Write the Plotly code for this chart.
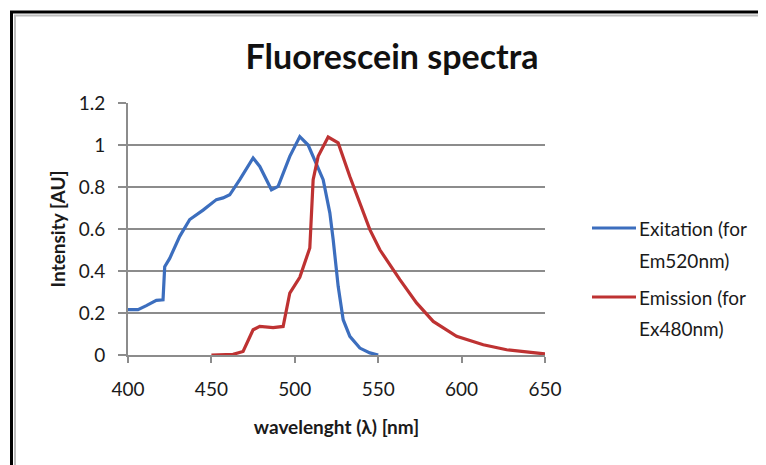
import plotly.graph_objects as go

# ---------------------------------------------------------------------------
# Data
# ---------------------------------------------------------------------------
EX_WAVELENGTH = [400, 406, 411, 417, 421, 422, 425, 431, 437, 445, 453, 457, 461,
                 467, 475, 479, 486, 490, 497, 503, 508, 511, 517, 521, 523, 526,
                 529, 533, 539, 545, 550]
EX_INTENSITY = [0.216, 0.216, 0.235, 0.26, 0.263, 0.42, 0.46, 0.565, 0.645, 0.69,
                0.74, 0.748, 0.763, 0.835, 0.938, 0.898, 0.787, 0.803, 0.946, 1.04,
                1.0, 0.946, 0.835, 0.677, 0.55, 0.327, 0.168, 0.089, 0.033, 0.01, 0.0]

EM_WAVELENGTH = [450, 463, 469, 475, 479, 487, 493, 497, 503, 509, 511, 514, 520,
                 526, 533, 539, 545, 551, 563, 573, 583, 597, 613, 627, 643, 650]
EM_INTENSITY = [0.0, 0.003, 0.017, 0.12, 0.136, 0.13, 0.136, 0.295, 0.37, 0.51,
                0.835, 0.946, 1.038, 1.01, 0.85, 0.724, 0.597, 0.501, 0.359, 0.248,
                0.16, 0.089, 0.049, 0.025, 0.012, 0.005]

SERIES_LABELS = [["Exitation (for", "Em520nm)"], ["Emission (for", "Ex480nm)"]]

X_TICKS = [400, 450, 500, 550, 600, 650]
Y_TICKS = [0, 0.2, 0.4, 0.6, 0.8, 1, 1.2]
Y_TICK_TEXT = ["0", "0.2", "0.4", "0.6", "0.8", "1", "1.2"]

# ---------------------------------------------------------------------------
# Styling (pixel positions are measured in the 766x465 screenshot; the page
# body adds an 8px margin, so the figure itself is shifted by that amount)
# ---------------------------------------------------------------------------
OFF = 8
W, H = 766 - OFF, 465 - OFF
PLOT_L, PLOT_R, PLOT_T, PLOT_B = 128, 545, 103, 355
ML, MR, MT, MB = PLOT_L - OFF, W - (PLOT_R - OFF), PLOT_T - OFF, H - (PLOT_B - OFF)
FONT = "Lato, 'Open Sans', sans-serif"
BLUE = "#3C6EBE"
RED = "#BE3232"
GRID = "#8C8C8C"
TEXT = "#1A1A1A"


def px_x(px):
    """Screenshot x pixel -> paper coordinate."""
    return (px - PLOT_L) / (PLOT_R - PLOT_L)


def px_y(py):
    """Screenshot y pixel -> paper coordinate."""
    return (PLOT_B - py) / (PLOT_B - PLOT_T)


fig = go.Figure()
fig.add_trace(go.Scatter(x=EX_WAVELENGTH, y=EX_INTENSITY, mode="lines",
                         name=" ".join(SERIES_LABELS[0]), showlegend=False,
                         line=dict(color=BLUE, width=3.2)))
fig.add_trace(go.Scatter(x=EM_WAVELENGTH, y=EM_INTENSITY, mode="lines",
                         name=" ".join(SERIES_LABELS[1]), showlegend=False,
                         line=dict(color=RED, width=3.2)))

fig.update_layout(
    width=W, height=H,
    margin=dict(l=ML, r=MR, t=MT, b=MB, autoexpand=False),
    paper_bgcolor="white", plot_bgcolor="white",
    font=dict(family=FONT, color=TEXT, size=19),
    title=dict(text="<b>Fluorescein spectra</b>", x=(392 - OFF) / W, xref="container",
               xanchor="center", y=1 - (57 - OFF) / H, yref="container", yanchor="middle",
               font=dict(size=34, color="#111111", family=FONT)),
)

fig.update_xaxes(
    range=[400, 650], tickvals=X_TICKS, showgrid=False, zeroline=False,
    showline=True, linecolor=GRID, linewidth=2,
    ticks="outside", ticklen=6, tickcolor=GRID, tickwidth=2,
    ticklabelstandoff=10,
    title=dict(text="<b>wavelenght (λ) [nm]</b>", standoff=22, font=dict(size=19)),
)
fig.update_yaxes(
    range=[0, 1.2], tickvals=Y_TICKS, ticktext=Y_TICK_TEXT,
    showgrid=True, gridcolor=GRID, gridwidth=2, zeroline=False,
    showline=True, linecolor=GRID, linewidth=2,
    ticks="outside", ticklen=8, tickcolor=GRID, tickwidth=2,
    ticklabelstandoff=9,
    title=dict(text="<b>Intensity [AU]</b>", standoff=8, font=dict(size=19)),
)

# Hand-made legend so the sample line sits on the first text line
legend_rows = [(228, 260), (297, 328)]
for color, (y1, y2), lines in zip([BLUE, RED], legend_rows, SERIES_LABELS):
    fig.add_shape(type="line", xref="paper", yref="paper",
                  x0=px_x(592), x1=px_x(636), y0=px_y(y1), y1=px_y(y1),
                  line=dict(color=color, width=3.2))
    for yy, txt in zip((y1, y2), lines):
        fig.add_annotation(xref="paper", yref="paper", x=px_x(637), y=px_y(yy),
                           xanchor="left", yanchor="middle", text=txt,
                           showarrow=False, font=dict(size=19, color=TEXT))

# Picture frame: black outer edge, grey inner edge (runs off right/bottom)
fig.add_shape(type="rect", xref="paper", yref="paper", layer="above",
              x0=px_x(11.5), x1=px_x(800), y0=px_y(520), y1=px_y(12),
              line=dict(color="black", width=3))
fig.add_shape(type="rect", xref="paper", yref="paper", layer="above",
              x0=px_x(15), x1=px_x(800), y0=px_y(520), y1=px_y(15.5),
              line=dict(color="#BDBDBD", width=2))

fig.write_html("out.html")
